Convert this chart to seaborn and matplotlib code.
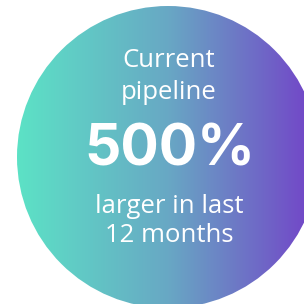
import numpy as np
import seaborn as sns
import matplotlib.pyplot as plt
from matplotlib.patches import Circle

# gradient end colours and the text lines
grad_colors = ['#5ce2c6', '#68a8c4', '#7340c8']
top_lines = ['Current', 'pipeline']
big_value = '500%'
bottom_lines = ['larger in last', '12 months']

sns.set_theme(style='white')
plt.rcParams['font.family'] = ['Open Sans', 'DejaVu Sans']

fig = plt.figure(figsize=(3.04, 3.04), dpi=100)
ax = fig.add_axes([0, 0, 1, 1])
ax.set_xlim(0, 304)
ax.set_ylim(304, 0)
ax.axis('off')

# horizontal gradient, clipped to a circle
pal = sns.blend_palette(grad_colors, n_colors=256)
grad = np.array(pal)[None, :, :]
circ = Circle((168, 157), 151, transform=ax.transData, facecolor='none', edgecolor='none')
ax.add_patch(circ)
im = ax.imshow(grad, extent=[17, 319, 308, 6], aspect='auto', interpolation='bilinear')
im.set_clip_path(circ)
ax.set_xlim(0, 304)
ax.set_ylim(304, 0)

ax.text(169, 67, top_lines[0], color='white', fontsize=18.5, ha='center', va='baseline')
ax.text(169, 99, top_lines[1], color='white', fontsize=18.5, ha='center', va='baseline')
ax.text(170, 165, big_value, color='white', fontsize=41, fontweight='bold',
        family=['Inter', 'DejaVu Sans'], ha='center', va='baseline')
ax.text(169, 213, bottom_lines[0], color='white', fontsize=18.5, ha='center', va='baseline')
ax.text(169, 242, bottom_lines[1], color='white', fontsize=18.5, ha='center', va='baseline')

fig.savefig('out.png', dpi=100, facecolor='white')
